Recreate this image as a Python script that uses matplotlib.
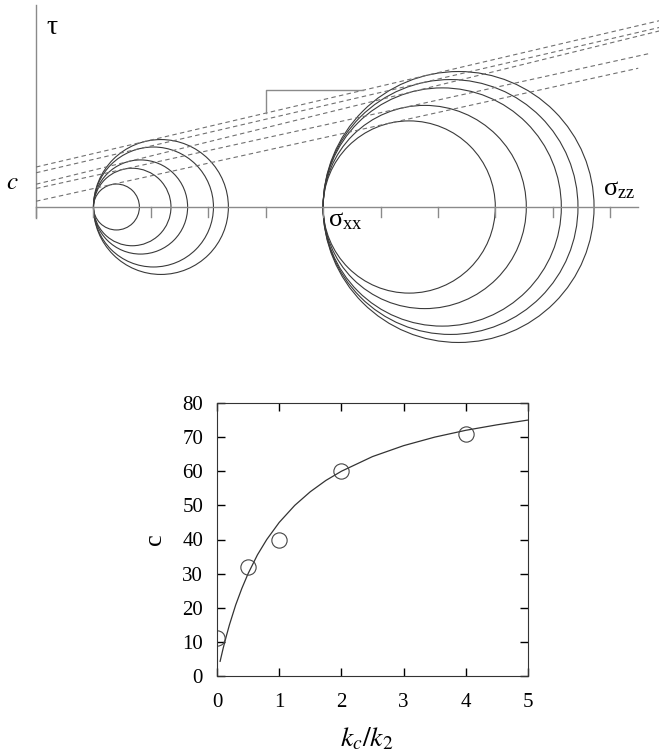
import numpy as np
import matplotlib
matplotlib.use("Agg")
import matplotlib.pyplot as plt
from matplotlib.patches import Circle

plt.rcParams['font.family'] = ['Liberation Serif', 'DejaVu Serif']
plt.rcParams['mathtext.fontset'] = 'stix'

# Mohr circles: all start at the same sigma_xx, right end is sigma_zz
left_lo = 1.0
left_hi = [1.80, 2.35, 2.64, 3.09, 3.35]
right_lo = 5.0
right_hi = [8.00, 8.54, 9.15, 9.44, 9.72]
line_end = [10.49, 10.70, 11.2, 11.2, 11.2]

# c vs kc/k2
kratio = [0, 0.5, 1, 2, 4]
c_meas = [11, 32, 40, 60, 71]
fit_x = [0.05, 0.1, 0.15, 0.2, 0.3, 0.4, 0.5, 0.65, 0.8, 1.0, 1.25, 1.5, 1.75,
         2.0, 2.5, 3.0, 3.5, 4.0, 4.5, 5.0]
fit_c = [4.3, 8.2, 11.7, 15.0, 20.8, 25.7, 30.0, 35.5, 40.0, 45.0, 50.0, 54.0,
         57.3, 60.0, 64.3, 67.5, 70.0, 72.0, 73.6, 75.0]

fig = plt.figure(figsize=(6.59, 7.54), dpi=100)

# ---- Mohr diagram ----
ax = fig.add_axes([0, 1 - 345 / 754, 1, 345 / 754])
ax.set_xlim(-0.627, 10.85)
ax.set_ylim(-2.404, 3.606)
ax.set_aspect('equal')
ax.axis('off')

axcol = '#8a8a8a'
ax.plot([0, 0], [-0.19, 3.52], color=axcol, lw=1.0)
ax.plot([0, 10.49], [0, 0], color=axcol, lw=1.0)
for t in range(11):
    ax.plot([t, t], [0, -0.18], color=axcol, lw=1.0)

for i in range(len(left_hi)):
    c1 = (left_lo + left_hi[i]) / 2
    r1 = (left_hi[i] - left_lo) / 2
    c2 = (right_lo + right_hi[i]) / 2
    r2 = (right_hi[i] - right_lo) / 2
    ax.add_patch(Circle((c1, 0), r1, fill=False, ec='#3a3a3a', lw=0.8))
    ax.add_patch(Circle((c2, 0), r2, fill=False, ec='#3a3a3a', lw=0.8))
    # common tangent of the two circles
    sphi = (r2 - r1) / (c2 - c1)
    slope = sphi / np.sqrt(1 - sphi ** 2)
    icpt = r1 * np.sqrt(1 + slope ** 2) - slope * c1
    xs = np.array([0, line_end[i]])
    ax.plot(xs, icpt + slope * xs, color='#707070', lw=0.8, ls=(0, (4, 3)))
    if i == len(left_hi) - 1:
        # step marker on the steepest envelope
        y_a = icpt + slope * 4.0
        y_b = icpt + slope * 5.7
        ax.plot([4.0, 4.0, 5.7], [y_a, y_b, y_b], color=axcol, lw=1.0)

ax.text(0.18, 3.13, 'τ', fontsize=20, ha='left', va='center')
ax.text(-0.42, 0.42, r'$c$', fontsize=18, ha='center', va='center')
ax.text(5.08, -0.24, r'$\mathregular{σ_{xx}}$', fontsize=19, ha='left',
        va='center')
ax.text(9.88, 0.30, r'$\mathregular{σ_{zz}}$', fontsize=19, ha='left',
        va='center')

# ---- c versus kc/k2 ----
bx = fig.add_axes([217 / 659, 1 - 676 / 754, 311 / 659, 273 / 754])
bx.plot(fit_x, fit_c, color='#333333', lw=0.9)
bx.plot(kratio, c_meas, 'o', mfc='none', mec='#444444', ms=11, mew=0.8)
bx.set_xlim(0, 5)
bx.set_ylim(0, 80)
bx.set_xticks(range(6))
bx.set_yticks(range(0, 81, 10))
bx.tick_params(direction='in', top=True, right=True, length=6, width=1,
               labelsize=15)
bx.tick_params(axis='x', pad=12)
bx.tick_params(axis='y', pad=10)
for s in bx.spines.values():
    s.set_color('#333333')
bx.set_ylabel('c', fontsize=19, labelpad=12)
fig.text(367 / 659, 1 - 739 / 754, r'$k_c/k_2$', fontsize=20,
         ha='center', va='center')

fig.savefig('out.png', dpi=100)
